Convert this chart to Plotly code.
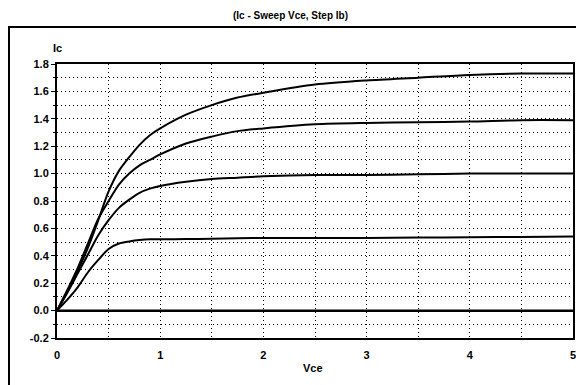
import plotly.graph_objects as go

vce = [0, 0.1, 0.2, 0.3, 0.4, 0.5, 0.6, 0.7, 0.8, 0.9, 1.0, 1.25, 1.5, 1.75, 2.0, 2.5, 3.0, 3.5, 4.0, 4.5, 5.0]
ic_ib4 = [0, 0.14, 0.29, 0.46, 0.66, 0.87, 1.02, 1.12, 1.21, 1.28, 1.33, 1.43, 1.50, 1.555, 1.59, 1.65, 1.68, 1.70, 1.72, 1.73, 1.73]
ic_ib3 = [0, 0.15, 0.31, 0.49, 0.67, 0.80, 0.92, 1.00, 1.06, 1.10, 1.14, 1.22, 1.27, 1.31, 1.33, 1.36, 1.37, 1.375, 1.38, 1.39, 1.39]
ic_ib2 = [0, 0.13, 0.27, 0.41, 0.55, 0.66, 0.75, 0.81, 0.86, 0.89, 0.91, 0.94, 0.96, 0.97, 0.98, 0.99, 0.99, 0.995, 1.0, 1.0, 1.0]
ic_ib1 = [0, 0.08, 0.17, 0.28, 0.37, 0.45, 0.49, 0.505, 0.515, 0.52, 0.52, 0.522, 0.525, 0.528, 0.53, 0.53, 0.53, 0.533, 0.535, 0.538, 0.54]
ic_ib0 = [0] * len(vce)

x_ticks = [0, 1, 2, 3, 4, 5]
y_ticks = [-0.2, 0.0, 0.2, 0.4, 0.6, 0.8, 1.0, 1.2, 1.4, 1.6, 1.8]
y_labels = ["-0.2", "0.0", "0.2", "0.4", "0.6", "0.8", "1.0", "1.2", "1.4", "1.6", "1.8"]

FONT = "Liberation Sans"
DOT = "1px,3px"

fig = go.Figure()
for ys in [ic_ib0, ic_ib1, ic_ib2, ic_ib3, ic_ib4]:
    fig.add_trace(go.Scatter(x=vce, y=ys, mode="lines",
                             line=dict(color="black", width=2, shape="spline", smoothing=0.8),
                             showlegend=False, hoverinfo="skip", cliponaxis=False))

W, H = 576, 385
L, R, T, B = 57, 3, 64, 47

fig.update_layout(
    width=W, height=H,
    margin=dict(l=L, r=R, t=T, b=B, autoexpand=False),
    paper_bgcolor="white", plot_bgcolor="white",
    font=dict(family=FONT, size=11, color="black", weight="bold"),
    showlegend=False,
    xaxis=dict(range=[0, 5], tickvals=x_ticks, ticktext=[str(v) for v in x_ticks],
               automargin=False, ticklabeloverflow="allow",
               showgrid=True, gridcolor="black", griddash=DOT, gridwidth=1,
               minor=dict(dtick=0.5, tick0=0, showgrid=True, gridcolor="black", griddash=DOT, gridwidth=1),
               showline=True, linecolor="black", linewidth=2, mirror=True,
               zeroline=False, ticks="", ticklabelstandoff=6,
               tickfont=dict(size=11, weight="bold")),
    yaxis=dict(range=[-0.2, 1.8], tickvals=y_ticks, ticktext=y_labels,
               automargin=False, ticklabeloverflow="allow",
               showgrid=True, gridcolor="black", griddash=DOT, gridwidth=1,
               minor=dict(dtick=0.1, tick0=0, showgrid=True, gridcolor="black", griddash=DOT, gridwidth=1,
                          ticks="outside", ticklen=2, tickcolor="black"),
               showline=True, linecolor="black", linewidth=2, mirror=True,
               zeroline=True, zerolinecolor="black", zerolinewidth=2,
               ticks="outside", ticklen=4, tickcolor="black", tickwidth=1,
               tickfont=dict(size=11, weight="bold")),
)

# outer frame
pw = W - L - R
ph = H - T - B
def px(xpix):
    return (xpix - L) / pw
def py(ypix):
    return (H - B - ypix) / ph

fig.add_shape(type="rect", xref="paper", yref="paper",
              x0=px(9), x1=px(580), y0=py(389), y1=py(27),
              line=dict(color="black", width=2), layer="above")

fig.add_annotation(text="(Ic - Sweep Vce, Step Ib)", xref="paper", yref="paper",
                   x=px(290), y=py(15), showarrow=False, xanchor="center", yanchor="middle",
                   font=dict(family=FONT, size=10, weight="bold"))
fig.add_annotation(text="Ic", xref="paper", yref="paper",
                   x=px(57), y=py(48), showarrow=False, xanchor="center", yanchor="middle",
                   font=dict(family=FONT, size=11, weight="bold"))
fig.add_annotation(text="Vce", xref="paper", yref="paper",
                   x=px(313), y=py(368), showarrow=False, xanchor="center", yanchor="middle",
                   font=dict(family=FONT, size=11, weight="bold"))

fig.write_html("out.html", config={"displayModeBar": False},
               post_script="document.body.style.margin='0';document.body.style.overflow='hidden';")
